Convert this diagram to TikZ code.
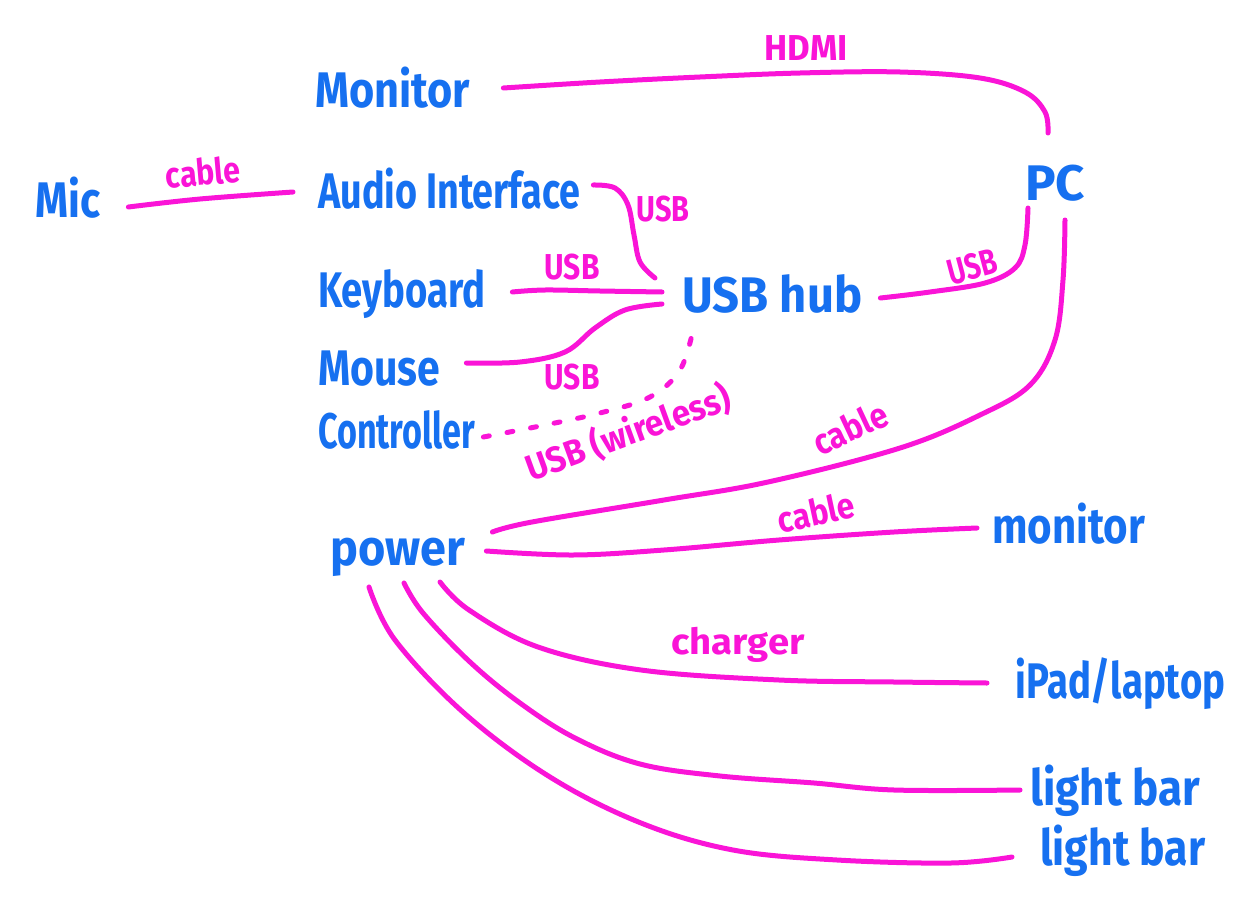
\documentclass[tikz,border=0pt]{standalone}
\usepackage{fontspec}
\setmainfont{Fira Sans}
\usetikzlibrary{calc}
\definecolor{inkblue}{RGB}{22,112,240}
\definecolor{inkpink}{RGB}{250,20,215}
\newcommand\hw[2]{\resizebox{#1pt}{\height}{#2}}
\begin{document}
\begin{tikzpicture}[x=1pt,y=-1pt,
  thing/.style={inkblue,font=\fontsize{50}{52}\selectfont\bfseries,inner sep=0pt,anchor=base west},
  tag/.style={inkpink,font=\fontsize{36}{38}\selectfont\bfseries,inner sep=0pt},
  wire/.style={inkpink,line width=5pt,line cap=round,line join=round},
  dotwire/.style={wire,dash pattern=on 6pt off 18pt}]
\useasboundingbox (0,0) rectangle (1251,918);
% nodes
\node[thing] (mon) at (315,107) {\hw{155}{Monitor}};
\node[thing] (pc) at (1025,200) {\hw{60}{PC}};
\node[thing] (mic) at (35,217) {\hw{65}{Mic}};
\node[thing] (aud) at (318,208) {\hw{262}{Audio Interface}};
\node[thing] (kbd) at (318,307) {\hw{167}{Keyboard}};
\node[thing] (hub) at (682,312) {\hw{180}{USB hub}};
\node[thing] (mou) at (318,385) {\hw{122}{Mouse}};
\node[thing] (ctl) at (318,448) {\hw{157}{Controller}};
\node[thing] (pow) at (330,565) {\hw{135}{power}};
\node[thing] (mon2) at (992,543) {\hw{153}{monitor}};
\node[thing] (ipad) at (1015,698) {\hw{210}{iPad/laptop}};
\node[thing] (lb1) at (1030,805) {\hw{170}{light bar}};
\node[thing] (lb2) at (1040,865) {\hw{165}{light bar}};
% end points
\coordinate (a1) at ($(mon.base east)+(33,-19)$);
\coordinate (a2) at ($(pc.base west)+(23,-67)$);
\coordinate (b1) at ($(mic.base east)+(28,-10)$);
\coordinate (b2) at ($(aud.base west)+(-25,-16)$);
\coordinate (c1) at ($(aud.base east)+(13,-23)$);
\coordinate (c2) at ($(hub.base west)+(-27,-34)$);
\coordinate (d1) at ($(kbd.base east)+(27,-15)$);
\coordinate (d2) at ($(hub.base west)+(-20,-20)$);
\coordinate (e1) at ($(mou.base east)+(26,-22)$);
\coordinate (e2) at ($(hub.base west)+(-20,-8)$);
\coordinate (f1) at ($(ctl.base east)+(8,-11)$);
\coordinate (f2) at ($(hub.base west)+(11,18)$);
\coordinate (g1) at ($(hub.base east)+(18,-14)$);
\coordinate (g2) at ($(pc.base west)+(3,8)$);
\coordinate (h1) at ($(pc.base west)+(40,20)$);
\coordinate (h2) at ($(pow.base east)+(27,-33)$);
\coordinate (i1) at ($(pow.base east)+(21,-14)$);
\coordinate (i2) at ($(mon2.base west)+(-15,-15)$);
\coordinate (j1) at ($(pow.base west)+(110,17)$);
\coordinate (j2) at ($(ipad.base west)+(-28,-15)$);
\coordinate (k1) at ($(pow.base west)+(74,18)$);
\coordinate (k2) at ($(lb1.base west)+(-10,-15)$);
\coordinate (m1) at ($(pow.base west)+(39,22)$);
\coordinate (m2) at ($(lb2.base west)+(-28,-8)$);
% connectors
\draw[wire] plot[smooth,tension=0.6] coordinates {(a1) (600,82) (700,77) (800,73) (900,72) (980,78) (1025,92) (1045,112) (a2)};
\draw[wire] plot[smooth,tension=0.6] coordinates {(b1) (200,199) (b2)};
\draw[wire] plot[smooth,tension=0.6] coordinates {(c1) (615,188) (628,205) (634,235) (640,262) (c2)};
\draw[wire] plot[smooth,tension=0.6] coordinates {(d1) (545,290) (600,291) (d2)};
\draw[wire] plot[smooth,tension=0.6] coordinates {(e1) (520,362) (565,352) (595,328) (625,310) (e2)};
\draw[dotwire] plot[smooth,tension=0.6] coordinates {(f1) (540,426) (600,413) (650,397) (680,370) (f2)};
\draw[wire] plot[smooth,tension=0.6] coordinates {(g1) (930,292) (985,283) (1015,268) (1025,245) (g2)};
\draw[wire] plot[smooth,tension=0.6] coordinates {(h1) (1063,280) (1055,340) (1030,385) (980,415) (900,448) (768,482) (664,500) (532,522) (h2)};
\draw[wire] plot[smooth,tension=0.6] coordinates {(i1) (573,555) (664,550) (779,540) (894,532) (i2)};
\draw[wire] plot[smooth,tension=0.6] coordinates {(j1) (469,610) (538,647) (641,670) (779,680) (894,682) (j2)};
\draw[wire] plot[smooth,tension=0.6] coordinates {(k1) (423,613) (470,662) (520,703) (575,738) (640,764) (720,776) (814,783) (894,790) (k2)};
\draw[wire] plot[smooth,tension=0.6] coordinates {(m1) (395,640) (464,713) (550,777) (641,823) (733,850) (837,860) (951,863) (m2)};
% labels
\node[tag] (t1) at (806,48) {\hw{83}{HDMI}};
\node[tag,rotate=5] (t2) at (203,172) {\hw{75}{cable}};
\node[tag] (t3) at (663,209) {\hw{53}{USB}};
\node[tag] (t4) at (572,267) {\hw{55}{USB}};
\node[tag] (t5) at (572,377) {\hw{55}{USB}};
\node[tag,rotate=20] (t6) at (628,433) {\hw{215}{USB (wireless)}};
\node[tag,rotate=15] (t7) at (972,267) {\hw{50}{USB}};
\node[tag,rotate=25] (t8) at (850,428) {\hw{78}{cable}};
\node[tag,rotate=12] (t9) at (816,512) {\hw{78}{cable}};
\node[tag] (t10) at (738,645) {\hw{133}{charger}};
\end{tikzpicture}
\end{document}
